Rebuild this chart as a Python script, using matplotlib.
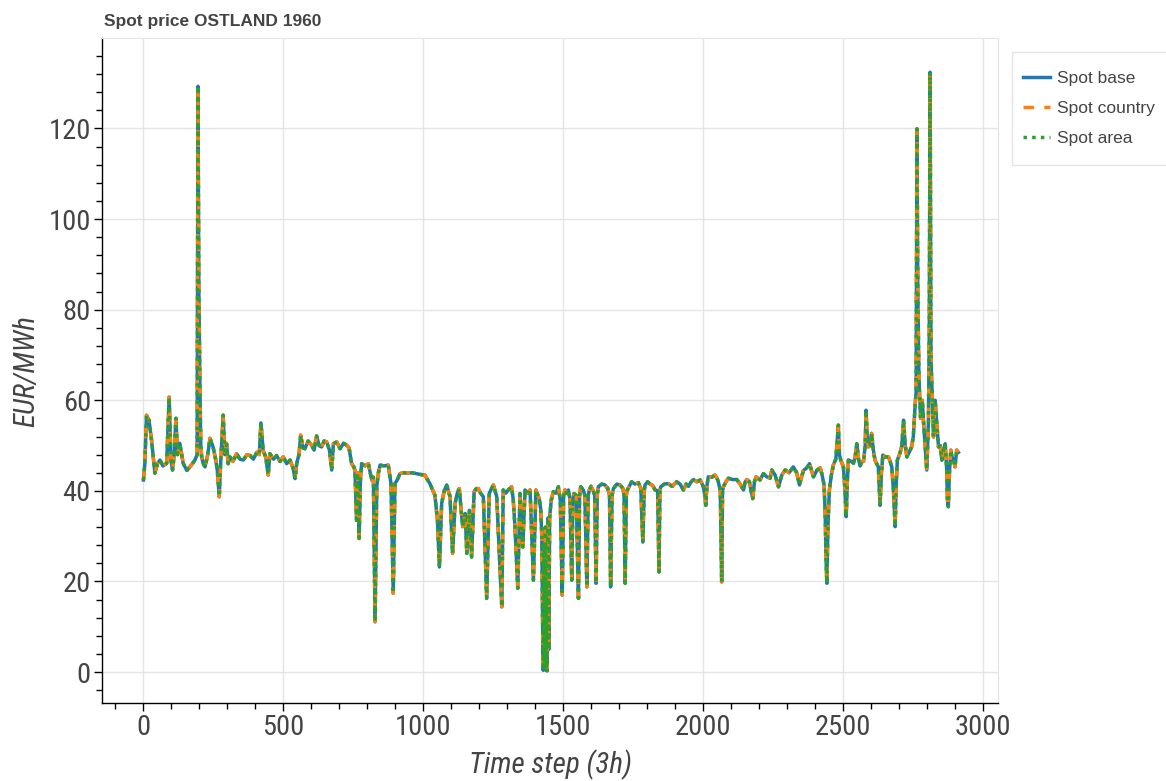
import matplotlib
matplotlib.use("Agg")
import matplotlib.pyplot as plt
from matplotlib.ticker import MultipleLocator
from matplotlib.patches import Rectangle

# values (time step, EUR/MWh)
time_step = [0, 5, 11, 20, 29, 41, 50, 59, 70, 83, 92, 98, 104, 110, 116, 122, 130, 142, 155, 166,
             175, 184, 192, 195, 198, 202, 205, 208, 214, 220, 230, 238, 249, 258, 264, 271, 276, 285, 291, 297,
             303, 309, 320, 333, 345, 357, 370, 381, 393, 405, 414, 420, 428, 437, 446, 452, 465, 476, 488, 500,
             512, 524, 535, 542, 548, 556, 562, 570, 577, 589, 601, 610, 619, 628, 637, 646, 655, 665, 673, 679,
             691, 703, 715, 726, 735, 744, 752, 756, 762, 765, 771, 776, 780, 792, 804, 816, 822, 828, 834, 840,
             846, 860, 875, 885, 893, 899, 908, 917, 929, 941, 960, 977, 992, 1006, 1015, 1024, 1035, 1042, 1051, 1058,
             1066, 1075, 1084, 1096, 1105, 1114, 1122, 1129, 1141, 1150, 1156, 1165, 1173, 1182, 1190, 1197, 1205, 1215, 1227, 1236,
             1244, 1251, 1263, 1272, 1281, 1286, 1295, 1304, 1316, 1322, 1328, 1338, 1346, 1356, 1364, 1373, 1382, 1394, 1403, 1410,
             1415, 1420, 1424, 1427, 1429, 1432, 1434, 1437, 1439, 1441, 1443, 1446, 1449, 1452, 1458, 1465, 1475, 1483, 1490, 1497,
             1502, 1507, 1513, 1519, 1525, 1531, 1535, 1539, 1547, 1555, 1559, 1563, 1572, 1578, 1585, 1590, 1594, 1600, 1608, 1613,
             1618, 1622, 1626, 1638, 1650, 1660, 1666, 1670, 1675, 1680, 1692, 1704, 1714, 1718, 1722, 1726, 1730, 1745, 1757, 1769,
             1778, 1785, 1790, 1793, 1802, 1811, 1820, 1829, 1838, 1843, 1846, 1849, 1862, 1876, 1890, 1906, 1918, 1930, 1940, 1948,
             1958, 1966, 1978, 1990, 2001, 2007, 2010, 2014, 2019, 2031, 2043, 2050, 2055, 2062, 2067, 2070, 2073, 2082, 2091, 2106,
             2121, 2133, 2145, 2151, 2157, 2166, 2172, 2178, 2184, 2190, 2204, 2216, 2228, 2240, 2246, 2258, 2270, 2282, 2294, 2308,
             2323, 2335, 2345, 2359, 2370, 2381, 2388, 2395, 2407, 2419, 2426, 2433, 2437, 2440, 2443, 2446, 2449, 2452, 2459, 2466,
             2475, 2484, 2488, 2493, 2502, 2508, 2512, 2516, 2520, 2530, 2538, 2544, 2550, 2556, 2562, 2568, 2574, 2580, 2583, 2587,
             2591, 2597, 2603, 2609, 2615, 2621, 2627, 2633, 2638, 2643, 2653, 2663, 2669, 2675, 2681, 2687, 2691, 2695, 2705, 2711,
             2717, 2723, 2729, 2737, 2746, 2752, 2758, 2762, 2765, 2768, 2772, 2778, 2784, 2788, 2794, 2800, 2806, 2809, 2812, 2815,
             2819, 2824, 2830, 2836, 2842, 2848, 2854, 2860, 2866, 2871, 2874, 2877, 2881, 2886, 2890, 2895, 2901, 2907, 2913]

spot_base = [42.4, 46, 56.7, 55.6, 51.2, 43.9, 46, 46.8, 45.5, 46.1, 60.7, 47, 44.6, 48, 56.0, 48, 50.5, 46.1, 44.5, 45.3,
             46, 46.8, 48, 129.3, 85, 62.6, 50, 47.5, 46, 45.3, 48, 51.6, 49.7, 47, 44.6, 38.7, 46.1, 56.7, 48, 50.5,
             46, 47.5, 46.5, 48.2, 47, 46.8, 48, 47.8, 47, 48.5, 48, 55.0, 48.9, 47.5, 43.5, 48.2, 47, 47.8, 46.5, 47.5,
             46, 46.8, 45, 42.7, 46.1, 48, 52.3, 49.5, 49.3, 51, 50.1, 49, 52.1, 50, 49.7, 51, 50.8, 49, 44.6, 50.4,
             50.8, 49.3, 50.5, 50.1, 49.5, 46.0, 45.3, 44.6, 33.5, 44, 29.5, 43, 46.0, 45.5, 46.0, 42.4, 43, 11.1, 40.9, 44,
             45.7, 45.5, 45.7, 41.6, 17.4, 41.6, 42.5, 43.8, 44, 43.9, 44, 43.8, 43.6, 43.5, 42.5, 41.6, 40, 39.0, 33.5, 23.2,
             37.2, 40, 41.3, 38.7, 26.2, 37.2, 39.5, 40.5, 32.1, 35, 26.2, 35.7, 25.4, 39.8, 40.5, 40.5, 39.5, 38.7, 16.3, 39.4,
             40.5, 41.3, 38.7, 26.2, 14.4, 40.2, 39.5, 40.2, 40.9, 38, 32.1, 18.5, 39.4, 27.6, 40.2, 39.5, 40.2, 20.3, 40.2, 39,
             38.3, 36, 30, 10, 0.4, 28, 2, 32, 0.4, 20, 0.3, 34, 5, 34.3, 38, 39.8, 39.5, 40.9, 38, 17.0,
             39, 40.2, 39.5, 40.2, 38, 20.3, 38, 39.4, 39, 16.3, 39, 40.9, 40.2, 39, 18.8, 39, 40.2, 41, 40, 39,
             19.6, 39, 40.9, 41.5, 41.3, 40.5, 39, 18.8, 39, 40.5, 41.5, 41.3, 40.5, 39, 19.6, 39, 40.2, 42.0, 41.5, 41.8,
             40.5, 28.7, 40, 41.3, 42, 41.5, 41.2, 40.2, 40, 22.1, 40, 40.9, 41.5, 41.6, 41, 42.0, 41.5, 40.2, 41.5, 41,
             42, 42.5, 42, 42.4, 41, 39, 36.8, 41, 43.1, 43, 43.5, 42.8, 42.0, 40, 19.9, 40, 40.9, 42, 42.8, 42.5,
             42.5, 41.5, 40.2, 42, 42.5, 42, 40, 38.3, 42, 43.1, 42.4, 43.8, 43.1, 42.8, 44.6, 43.5, 40.9, 43.5, 44.6, 44,
             45.3, 44, 41.3, 44.5, 45, 46.0, 44.5, 43.1, 44.5, 45.1, 43.5, 41.3, 35, 25, 19.6, 30, 36, 40.2, 43.5, 45.7,
             47, 54.5, 48, 46.7, 45.3, 40, 34.3, 42, 46.8, 46.5, 46.1, 47.5, 50.4, 47, 45.5, 46.5, 46.5, 50, 57.8, 52,
             49.7, 50, 52.7, 49, 46.8, 46, 45.3, 36.8, 44, 47.9, 47.5, 47.5, 46.5, 45.3, 40, 32.1, 42, 46.8, 48.5, 50,
             55.6, 50, 47.5, 48.5, 49.7, 52, 58.5, 62, 119.9, 84, 65, 56, 60, 55.6, 50, 44.6, 55, 75, 132.4, 68.8,
             62, 51.9, 60, 55, 49.7, 50, 46.8, 49, 50.4, 45, 38, 36.5, 44, 49, 47.5, 47, 45.3, 49.0, 48.5]

# the three series overlap completely in the reference
spot_country = list(spot_base)
spot_area = list(spot_base)

series_names = ["Spot base", "Spot country", "Spot area"]
x_ticks = [0, 500, 1000, 1500, 2000, 2500, 3000]
y_ticks = [0, 20, 40, 60, 80, 100, 120]

narrow = ["Roboto Condensed", "Archivo Narrow", "PT Sans Narrow", "Liberation Sans Narrow",
          "Liberation Sans", "DejaVu Sans"]
sans = ["Liberation Sans", "DejaVu Sans"]

fig = plt.figure(figsize=(11.66, 7.81), dpi=100)
ax = fig.add_axes([0.0875, 0.100, 0.7685, 0.851])

ax.plot(time_step, spot_base, color="#1f77b4", lw=2.5, ls="-", label=series_names[0])
ax.plot(time_step, spot_country, color="#ff7f0e", lw=2.5, ls=(0, (3, 3)), label=series_names[1])
ax.plot(time_step, spot_area, color="#2ca02c", lw=2.5, ls=(0, (1, 1.5)), label=series_names[2])

ax.set_xlim(-148, 3055)
ax.set_ylim(-6.8, 139.9)
ax.set_xticks(x_ticks)
ax.set_yticks(y_ticks)
ax.xaxis.set_minor_locator(MultipleLocator(100))
ax.yaxis.set_minor_locator(MultipleLocator(4))

ax.grid(True, which="major", color="#e5e5e5", lw=1)
ax.set_axisbelow(True)
for s in ["top", "right"]:
    ax.spines[s].set_color("#e5e5e5")
for s in ["left", "bottom"]:
    ax.spines[s].set_color("black")
    ax.spines[s].set_linewidth(1)

ax.tick_params(which="major", direction="out", length=6, width=1, colors="black",
               labelcolor="#444444", pad=2)
ax.tick_params(which="minor", direction="out", length=4, width=1, colors="black")
for lab in ax.get_xticklabels() + ax.get_yticklabels():
    lab.set_family(narrow)
    lab.set_fontsize(20.5)

ax.set_xlabel("Time step (3h)", family=narrow, style="italic", fontsize=21, color="#444444", labelpad=6)
ax.set_ylabel("EUR/MWh", family=narrow, style="italic", fontsize=21, color="#444444", labelpad=6)

fig.text(0.089, 0.973, "Spot price OSTLAND 1960", fontsize=12.5, fontweight="bold",
         color="#444444", family=sans, va="center")

# legend frame drawn separately (behind the axes) so the inner padding can match
fig.patches.append(Rectangle((1012 / 1166, 1 - 165 / 781), 0.16, 113 / 781,
                             transform=fig.transFigure, facecolor="white",
                             edgecolor="#e5e5e5", lw=1, zorder=-1))
leg = ax.legend(loc="upper left", bbox_to_anchor=(1023 / 1166, 1 - 71 / 781),
                bbox_transform=fig.transFigure, borderaxespad=0, borderpad=0,
                frameon=False, handlelength=1.55, prop={"family": sans, "size": 12.5},
                labelspacing=0.85, handletextpad=0.4)
for t in leg.get_texts():
    t.set_color("#444444")

fig.savefig("out.png", dpi=100)
